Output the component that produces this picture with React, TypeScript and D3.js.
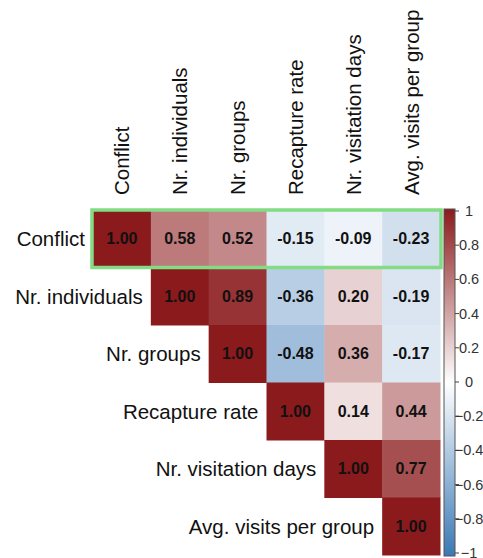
import React from "react";
import * as d3 from "d3";

const variables = [
  "Conflict",
  "Nr. individuals",
  "Nr. groups",
  "Recapture rate",
  "Nr. visitation days",
  "Avg. visits per group",
];

// upper-triangle correlations, row by row (starting at the diagonal)
const rowConflict = [1.0, 0.58, 0.52, -0.15, -0.09, -0.23];
const rowIndividuals = [1.0, 0.89, -0.36, 0.2, -0.19];
const rowGroups = [1.0, -0.48, 0.36, -0.17];
const rowRecapture = [1.0, 0.14, 0.44];
const rowVisitDays = [1.0, 0.77];
const rowAvgVisits = [1.0];
const rows = [rowConflict, rowIndividuals, rowGroups, rowRecapture, rowVisitDays, rowAvgVisits];

const colorTicks = [1, 0.8, 0.6, 0.4, 0.2, 0, -0.2, -0.4, -0.6, -0.8, -1];

export default function App() {
  const W = 483;
  const H = 558;
  const x0 = 93;
  const x1 = 440;
  const y0 = 210;
  const y1 = 555;
  const xs = d3.scaleBand<number>().domain(d3.range(6)).range([x0, x1]);
  const ys = d3.scaleBand<number>().domain(d3.range(6)).range([y0, y1]);
  const color = d3
    .scaleLinear<string>()
    .domain([-1, 0, 1])
    .range(["#3a78b5", "#ffffff", "#8b1a1c"])
    .interpolate(d3.interpolateRgb);

  const barX = 444;
  const barW = 11;
  const barTop = 209;
  const barBottom = 556;
  const cy = d3.scaleLinear().domain([1, -1]).range([211, 553]);
  const gradStops = d3.range(-1, 1.0001, 0.1);

  const cells: any[] = [];
  rows.forEach((r, i) => {
    r.forEach((v, k) => {
      cells.push({ i, j: i + k, v });
    });
  });

  return (
    <svg
      width={W}
      height={H}
      style={{ position: "absolute", left: 0, top: 0, background: "#fff" }}
      fontFamily="'Liberation Sans', Arial, sans-serif"
    >
      <defs>
        <linearGradient id="cbar" x1="0" y1="1" x2="0" y2="0">
          {gradStops.map((s, k) => (
            <stop key={k} offset={(s + 1) / 2} stopColor={color(s)} />
          ))}
        </linearGradient>
      </defs>
      {cells.map((c, k) => (
        <g key={k}>
          <rect
            x={xs(c.j)}
            y={ys(c.i)}
            width={xs.bandwidth() + 0.5}
            height={ys.bandwidth() + 0.5}
            fill={color(c.v)}
          />
          <text
            x={(xs(c.j) as number) + xs.bandwidth() / 2}
            y={(ys(c.i) as number) + ys.bandwidth() / 2}
            textAnchor="middle"
            dominantBaseline="central"
            fontSize={16}
            fontWeight="bold"
            fill="#111"
          >
            {c.v.toFixed(2)}
          </text>
        </g>
      ))}
      {variables.map((v, i) => (
        <text
          key={"r" + i}
          x={(xs(i) as number) - 8}
          y={(ys(i) as number) + ys.bandwidth() / 2}
          textAnchor="end"
          dominantBaseline="central"
          fontSize={20.5}
          fill="#111"
        >
          {v}
        </text>
      ))}
      {variables.map((v, i) => {
        const cx = (xs(i) as number) + xs.bandwidth() / 2;
        return (
          <text
            key={"c" + i}
            transform={`translate(${cx},195) rotate(-90)`}
            textAnchor="start"
            dominantBaseline="central"
            fontSize={20.5}
            fill="#111"
          >
            {v}
          </text>
        );
      })}
      <rect
        x={x0 - 1}
        y={y0}
        width={x1 - x0 + 2}
        height={ys.bandwidth()}
        fill="none"
        stroke="#82dc84"
        strokeWidth={3.5}
      />
      <rect x={barX} y={barTop} width={barW} height={barBottom - barTop} fill="url(#cbar)" stroke="#555" strokeWidth={1} />
      {colorTicks.map((t, k) => (
        <g key={"t" + k}>
          <line x1={barX + barW} x2={barX + barW + 4} y1={cy(t)} y2={cy(t)} stroke="#444" strokeWidth={1} />
          <text
            x={469}
            y={cy(t)}
            textAnchor="middle"
            dominantBaseline="central"
            fontSize={14.5}
            fill="#333"
          >
            {t === 0 ? "0" : d3.format("")(t)}
          </text>
        </g>
      ))}
    </svg>
  );
}
